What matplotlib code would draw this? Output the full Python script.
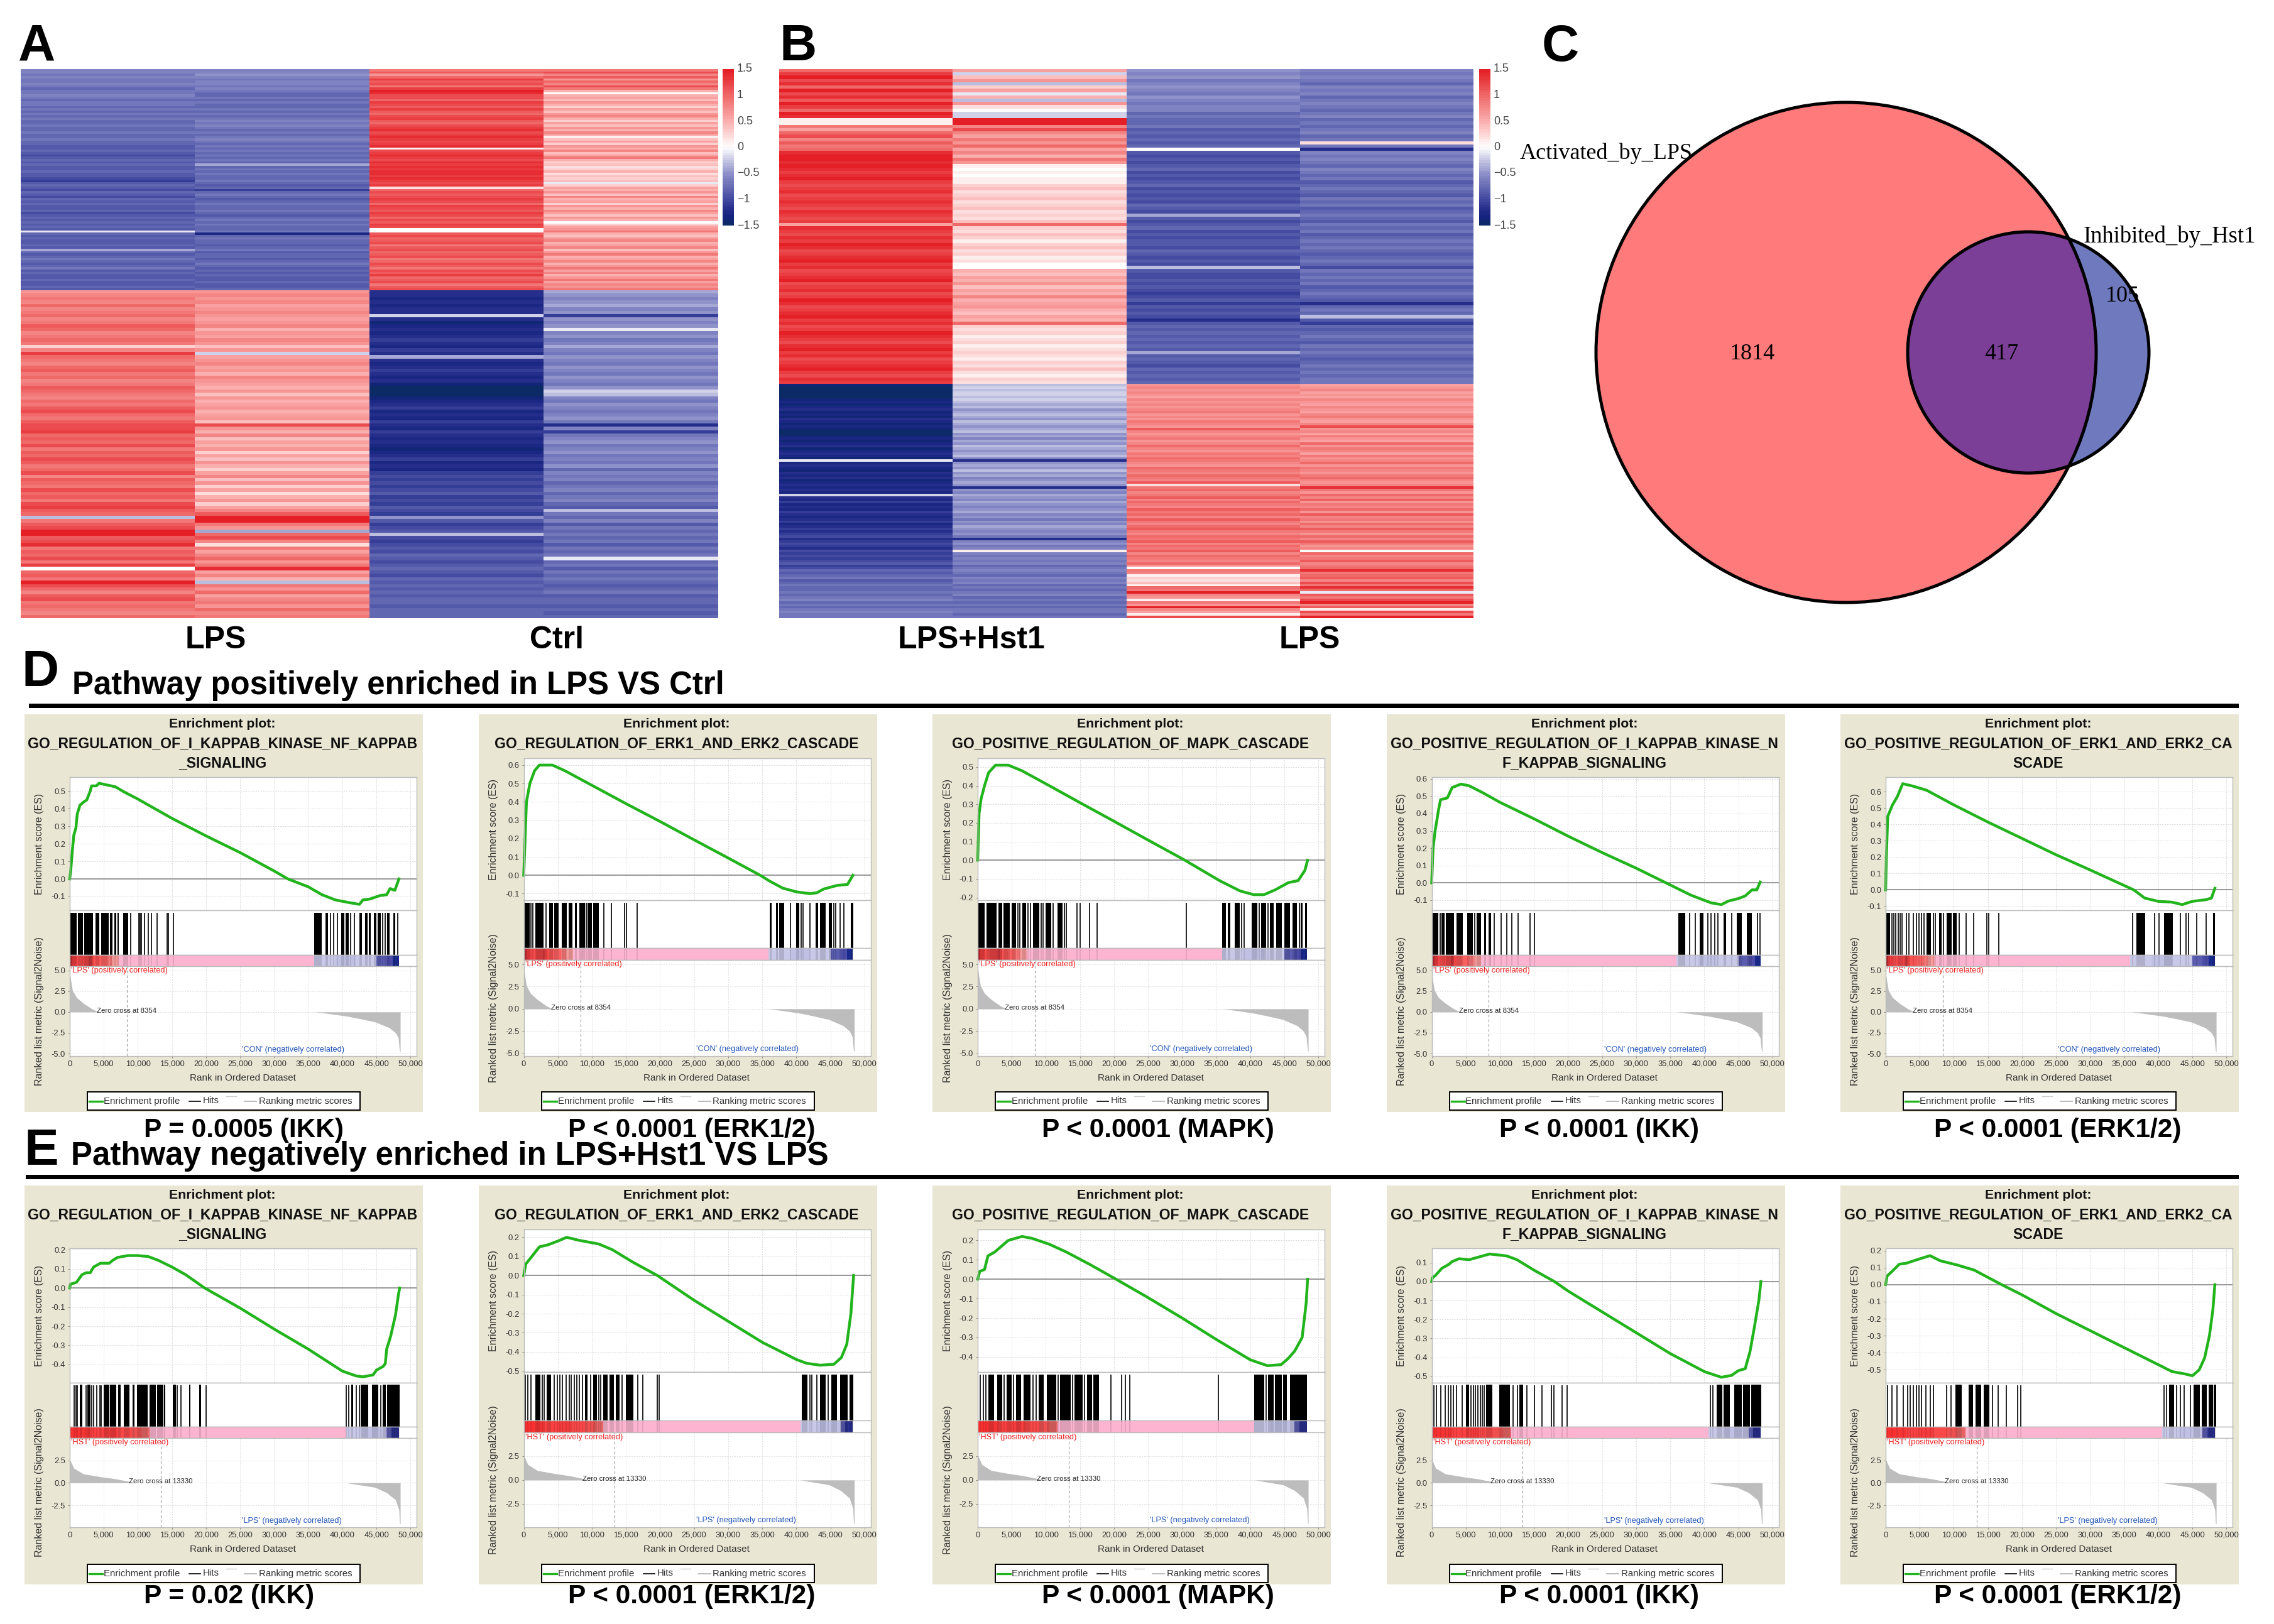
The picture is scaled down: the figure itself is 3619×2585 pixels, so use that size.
import numpy as np
import matplotlib
matplotlib.use('Agg')
import matplotlib.pyplot as plt
from matplotlib.colors import LinearSegmentedColormap
from matplotlib.patches import Circle, Rectangle
from matplotlib.transforms import Bbox

plt.rcParams['font.family'] = ['Liberation Sans', 'DejaVu Sans']

W, H = 3619, 2585

# heatmap values in tenths of a z-score, one list per sample, top to bottom
a_top_1 = [-6,-6,-7,-6,-7,-7,-6,-7,-8,-7,-7,-6,
           -7,-8,-7,-7,-8,-7,-8,-7,-8,-7,-8,-8,
           -7,-8,-8,-7,-8,-8,-7,-8,-8,-9,-9,-8,
           -9,-10,-9,-8,-9,-8,-9,-9,-8,-9,-9,-10,
           -11,-9,-8,-9,-10,-8,-9,-10,-8,-9,-8,-9,
           -9,-8,-10,-9,-8,-9,-8,-9,-8,-9,-1,-8,
           -9,-8,-9,-9,-8,-9,-4,-8,-9,-8,-7,-8,
           -9,-8,-7,-9,-8,-9,-9,-8,-9,-9,-8,-9]
a_top_2 = [-6,-6,-5,-6,-7,-6,-6,-7,-6,-7,-8,-8,
           -7,-8,-7,-8,-8,-7,-8,-7,-8,-7,-6,-7,
           -6,-7,-8,-7,-8,-7,-6,-7,-8,-7,-8,-7,
           -8,-7,-8,-7,-8,-4,-8,-7,-8,-7,-8,-8,
           -7,-8,-9,-8,-11,-8,-7,-8,-9,-8,-7,-8,
           -8,-7,-8,-9,-8,-7,-8,-7,-8,-8,-7,-13,
           -8,-7,-8,-8,-9,-8,-7,-9,-8,-8,-9,-8,
           -7,-8,-9,-8,-9,-8,-9,-9,-8,-9,-9,-8]
a_top_3 = [9,11,7,10,13,11,12,9,13,15,14,12,
           12,10,13,12,11,13,11,10,12,13,11,10,
           12,13,14,12,13,14,13,12,13,14,1,12,
           13,14,13,12,14,13,14,13,14,14,13,14,
           13,12,13,2,10,12,11,12,13,12,10,13,
           12,11,13,12,10,12,11,13,12,0,0,11,
           12,10,11,12,9,11,12,10,11,12,9,10,
           12,11,9,12,11,13,10,11,12,9,11,12]
a_top_4 = [9,12,8,11,7,10,8,12,9,5,0,5,
           6,4,7,5,3,6,4,7,8,5,3,6,
           4,7,5,8,6,1,4,6,3,7,5,8,
           4,6,9,5,3,4,2,3,5,2,4,3,
           4,-1,3,6,5,7,4,8,5,6,3,7,
           5,8,6,4,7,5,0,3,6,7,9,5,
           4,7,8,5,6,8,4,7,9,5,6,8,
           5,7,9,6,8,5,7,9,6,8,7,9]
a_bot_1 = [7,8,9,8,10,8,9,10,8,9,11,10,
           8,9,10,9,3,8,13,10,9,8,10,11,
           9,10,8,9,11,10,9,8,10,9,11,12,
           10,9,11,12,12,13,10,11,10,12,9,11,
           10,12,11,9,10,12,8,11,10,9,12,10,
           11,9,12,13,11,10,-3,9,11,12,15,15,
           11,12,14,9,11,10,12,9,13,0,10,11,
           9,15,12,10,8,11,12,9,10,9,8,10]
a_bot_2 = [7,8,7,8,6,7,8,7,6,7,8,5,
           7,6,8,7,4,7,-2,6,7,8,6,7,
           5,8,7,6,5,7,4,7,5,6,7,5,
           6,7,4,12,7,5,8,4,6,5,7,3,
           6,4,7,5,3,6,8,4,7,3,6,2,
           5,7,3,6,8,11,15,15,9,7,-4,10,
           12,8,2,9,6,8,10,7,9,14,6,8,
           5,-3,9,7,10,6,8,9,7,10,8,9]
a_bot_3 = [-12,-12,-13,-12,-13,-12,-12,-2,-12,-14,-13,-12,
           -13,-12,-11,-12,-13,-11,-12,-4,-12,-13,-12,-11,
           -12,-13,-12,-14,-15,-15,-15,-14,-13,-12,-11,-13,
           -12,-13,-11,-12,-13,-11,-12,-13,-12,-13,-14,-13,
           -12,-11,-13,-12,-13,-11,-10,-11,-10,-11,-10,-9,
           -11,-10,-11,-9,-10,-11,-5,-9,-11,-10,-9,-3,
           -10,-11,-10,-9,-10,-8,-9,-10,-9,-8,-9,-10,
           -8,-9,-8,-9,-8,-9,-8,-8,-9,-8,-8,-8]
a_bot_4 = [-4,-5,-6,-5,-4,-6,-5,-11,-5,-6,-5,-1,
           -6,-5,-7,-6,-4,-6,-7,-5,-6,-7,-5,-6,
           -7,-5,-6,-7,-5,-2,-3,-6,-7,-5,-6,-7,
           -6,-5,-7,-12,-6,-11,-7,-6,-5,-7,-6,-5,
           -7,-6,-7,-5,-8,-6,-7,-6,-8,-7,-6,-8,
           -7,-6,-8,-9,-3,-7,-8,-6,-9,-7,-8,-7,
           -8,-7,-9,-7,-8,-7,-1,-8,-7,-9,-7,-8,
           -7,-8,-9,-8,-7,-9,-8,-8,-9,-8,-9,-8]
b_top_1 = [10,13,15,12,14,10,15,12,14,11,15,13,
           10,15,14,1,1,9,6,10,12,8,11,9,
           10,14,15,15,14,15,14,13,14,15,13,12,
           13,14,12,13,14,13,12,14,13,12,13,6,
           14,13,12,14,13,15,14,12,13,14,15,13,
           14,12,13,14,15,12,13,14,12,13,15,14,
           12,13,14,15,13,14,12,13,15,14,13,12,
           14,15,13,14,12,13,14,15,13,12,14,13]
b_top_2 = [6,-2,4,7,-3,3,6,-1,5,-3,7,2,
           0,-2,-2,15,15,8,12,8,6,9,7,10,
           6,8,5,9,7,1,0,1,0,1,1,3,
           4,2,3,4,2,3,4,2,3,2,4,10,
           3,2,4,3,1,3,4,2,3,1,2,0,
           0,5,4,6,5,7,4,6,5,8,5,6,
           7,5,4,6,5,10,3,2,3,1,2,3,
           1,2,3,2,1,3,2,4,2,1,3,2]
b_top_3 = [-5,-6,-5,-7,-6,-5,-6,-7,-5,-6,-7,-6,
           -6,-8,-7,-8,-8,-7,-9,-8,-9,-8,-9,-8,
           0,-9,-10,-9,-10,-9,-8,-10,-9,-10,-9,-8,
           -10,-9,-10,-9,-10,-8,-9,-10,-4,-9,-10,-9,
           -8,-10,-9,-10,-9,-9,-10,-8,-9,-10,-9,-10,
           -3,-9,-10,-10,-9,-10,-9,-10,-11,-10,-9,-11,
           -9,-10,-9,-10,-12,-9,-8,-9,-8,-9,-8,-9,
           -8,-9,-4,-9,-8,-9,-10,-8,-9,-8,-9,-8]
b_top_4 = [-6,-7,-6,-7,-8,-6,-7,-6,-8,-7,-6,-7,
           -8,-7,-6,-8,-7,-8,-7,-6,-8,-7,2,-7,
           -12,-6,-7,-6,-7,-8,-6,-7,-8,-7,-9,-8,
           -7,-8,-9,-7,-8,-7,-9,-8,-7,-8,-9,-7,
           -8,-7,-9,-8,-7,-8,-7,-8,-9,-8,-7,-8,
           -10,-7,-8,-7,-8,-7,-9,-8,-7,-8,-9,-12,
           -8,-7,-8,-3,-9,-11,-8,-9,-8,-7,-8,-9,
           -7,-8,-7,-8,-9,-8,-7,-8,-7,-8,-7,-7]
b_bot_1 = [-14,-15,-15,-15,-15,-15,-14,-13,-14,-13,-12,-14,
           -13,-14,-12,-13,-14,-13,-14,-15,-15,-14,-13,-14,
           -13,-12,-14,-13,-12,-13,-14,-1,-13,-12,-13,-14,
           -12,-13,-12,-14,-13,-12,-13,-12,-13,-2,-12,-13,
           -11,-13,-12,-13,-11,-12,-13,-12,-11,-13,-12,-11,
           -12,-11,-10,-12,-11,-10,-11,-12,-10,-11,-10,-11,
           -10,-9,-11,-10,-8,-9,-8,-7,-9,-8,-7,-8,
           -8,-7,-8,-7,-6,-8,-7,-8,-7,-6,-7,-7]
b_bot_2 = [-3,-2,-3,-2,-2,-3,-2,-3,-4,-3,-5,-4,
           -3,-4,-5,-3,-4,-5,-4,-3,-5,-4,-6,-4,
           -5,-3,-4,-5,-4,-3,-6,-12,-5,-4,-5,-3,
           -5,-4,-6,-5,-4,-5,-12,-5,-6,-4,-5,-6,
           -4,-5,-6,-5,-4,-6,-5,-7,-5,-6,-4,-5,
           -6,-5,-7,-12,-6,-5,-7,-6,1,-6,-7,-6,
           -7,-6,-8,-7,-6,-7,-8,-6,-7,-6,-8,-7,
           -8,-7,-6,-8,-7,-8,-7,-8,-7,-7,-8,-7]
b_bot_3 = [7,8,7,8,7,6,8,7,8,7,8,9,
           7,8,7,9,8,7,11,8,7,8,9,7,
           8,10,8,7,9,8,10,9,8,7,10,9,
           8,10,9,8,11,2,9,10,8,9,11,8,
           10,9,8,11,9,10,8,11,9,8,10,11,
           9,8,10,9,11,8,10,9,11,8,10,9,
           8,10,7,0,9,8,1,3,2,4,1,10,
           9,15,8,7,1,9,7,15,8,6,1,12]
b_bot_4 = [6,7,8,6,7,6,8,7,6,8,7,6,
           8,9,7,6,8,12,7,8,6,9,7,6,
           10,7,9,8,6,9,7,8,10,7,9,8,
           7,9,10,8,7,8,14,9,7,10,8,11,
           7,9,8,10,7,11,8,9,7,10,8,11,
           9,7,10,8,11,9,7,8,0,10,8,9,
           11,8,9,10,14,9,10,11,8,12,9,14,
           10,-1,11,9,12,15,8,11,1,12,9,15]

# venn counts and labels
venn_counts = ['1814', '417', '105']
venn_sets = ['Activated_by_LPS', 'Inhibited_by_Hst1']

# colorbar
cbar_ticks = [1.5, 1, 0.5, 0, -0.5, -1, -1.5]
cbar_labels = ['1.5', '1', '0.5', '0', '\u22120.5', '\u22121', '\u22121.5']

# GSEA panels: enrichment curves, (rank in thousands, ES)
d1_rank = [0,.15,.4,.6,.9,1.1,1.5,2.1,2.5,3.0,3.2,3.9,4.3,5.5,6.7,8,10,15,20,25,30,32,35,37,39,41,42.5,43,44,45.5,46.5,47,47.7,48.3]
d1_es = [0,.05,.17,.25,.29,.37,.42,.44,.45,.5,.53,.53,.545,.535,.525,.495,.455,.345,.245,.15,.045,0,-.045,-.09,-.12,-.135,-.145,-.12,-.115,-.095,-.09,-.055,-.065,0]
d2_rank = [0,.2,.4,.9,1.6,2.3,4.2,6,10,15,20,25,30,34.7,36,38,40,42,43,44,46,47.5,48.3]
d2_es = [0,.2,.4,.5,.57,.6,.6,.57,.49,.39,.293,.193,.094,0,-.03,-.07,-.09,-.1,-.095,-.075,-.055,-.05,0]
d3_rank = [0,.2,.5,1,1.6,2.6,4.5,6.5,10,15,20,25,30.4,35.5,38.5,40.5,42,43.6,45.6,47,48,48.4]
d3_es = [0,.25,.33,.4,.47,.51,.51,.48,.41,.309,.209,.108,0,-.11,-.165,-.185,-.185,-.16,-.12,-.11,-.055,0]
d4_rank = [0,.2,.5,1,1.3,2.3,3,4.3,5.5,7.5,10,15,20,25,30,34.4,38,40,41,42.5,43.5,45,46,47,47.7,48.2]
d4_es = [0,.2,.3,.42,.48,.49,.55,.57,.56,.52,.465,.37,.27,.175,.085,0,-.07,-.1,-.115,-.125,-.105,-.09,-.075,-.04,-.04,.005]
d5_rank = [0,.1,.3,1,1.7,2.5,4,6,8,10,15,20,25,30,36.4,38,40,42,43.5,45,47,47.8,48.3]
d5_es = [0,.2,.45,.52,.57,.65,.635,.61,.565,.52,.415,.315,.215,.122,0,-.05,-.07,-.075,-.09,-.07,-.06,-.05,.01]
e1_rank = [0,.1,1,1.8,2.4,3,3.5,4.5,5.8,6.3,7,8.5,10,11.5,13,15,17,19.8,25,30,35,40,42,43,44.5,45,46,46.3,46.5,47.1,47.8,48.2,48.4]
e1_es = [0,.02,.03,.07,.08,.08,.11,.13,.13,.145,.16,.17,.17,.165,.145,.11,.07,0,-.105,-.215,-.32,-.435,-.46,-.465,-.455,-.43,-.41,-.395,-.32,-.25,-.14,-.04,0]
e2_rank = [0,.3,1.2,2.3,3.5,5,6.3,8,11,13,16,19.6,25,30,35,40,41.5,43.5,45.5,46.6,47.4,48,48.4]
e2_es = [0,.06,.1,.15,.16,.18,.2,.185,.165,.135,.07,0,-.13,-.24,-.35,-.44,-.46,-.47,-.465,-.43,-.36,-.2,0]
e3_rank = [0,.3,1,1.5,2.5,3.5,4.5,6.5,8,10.5,13,16.5,20.3,25,30,35,40,42.5,44.5,45.5,46.5,47.6,48.2,48.4]
e3_es = [0,.04,.05,.12,.14,.17,.2,.22,.21,.18,.14,.075,0,-.095,-.2,-.31,-.415,-.445,-.44,-.41,-.37,-.3,-.12,0]
e4_rank = [0,.1,.5,1.5,2.5,3,4,5.5,7,8.5,11,12.5,15,18,20,25,30,35,40,42.5,44,45,46,46.7,47.3,48,48.3]
e4_es = [0,.02,.03,.07,.09,.105,.12,.115,.13,.145,.135,.115,.06,0,-.05,-.16,-.27,-.38,-.475,-.505,-.495,-.47,-.46,-.37,-.25,-.1,0]
e5_rank = [0,.2,1,2,3,4.5,6.5,8,10.5,13,17,20,25,30,35,40,42,44,45,46,46.8,47.5,48,48.3]
e5_es = [0,.05,.08,.12,.125,.145,.17,.14,.115,.085,0,-.06,-.17,-.27,-.37,-.47,-.51,-.525,-.535,-.5,-.43,-.3,-.15,0]

# hit positions: a number is one gene, a tuple is a run too dense to separate
d1_hits = [(.1,1),(1.2,1.9),(2.1,3.4),(3.8,4.3),(4.6,5.7),(5.9,6.3),(6.5,6.8),(7,7.2),(7.8,8.6),8.9,10.1,10.3,10.5,11,11.5,12,12.8,14.3,14.5,15.2,
           (35.9,37),(37.5,37.9),38.3,38.7,39.3,(39.8,40.3),(40.5,40.9),41.2,41.8,(42.5,42.9),(43.3,43.7),(43.9,44.2),(44.6,45),(45.2,45.6),45.9,46.3,(46.6,46.9),(47.5,47.8),48.1]
d2_hits = [(.1,.9),1.1,1.3,(1.7,2.9),3.3,(3.7,4.3),(4.5,5.1),(5.6,6.3),(6.6,7.1),(7.5,7.8),(8.2,9),9.2,(9.4,10),(10.2,11),11.8,12.9,14.8,15.1,16.6,
           (36.1,36.4),(37,37.3),(37.5,38.2),39.1,(40,40.4),40.7,41,42,(42.8,43.2),(43.5,44.3),(44.8,45.2),45.5,45.8,46.4,47,(48,48.4)]
d3_hits = [(.1,1),(1.3,2.8),(3,3.6),(3.8,4.7),(5,5.6),5.9,6.2,(6.5,7.1),7.4,7.7,(8.1,9),9.3,9.6,(10,10.8),11.1,(11.7,12.4),12.7,13,14.6,15,16.4,17.5,30.6,
           (35.9,36.4),(36.7,37.1),(37.7,38.4),38.7,39.1,(40.2,41),41.3,(41.6,42.3),42.6,(42.9,43.4),(43.8,44.6),(45,45.8),(46.2,46.8),47.2,(47.4,47.7),(48,48.3)]
d4_hits = [(.1,1),1.2,(1.4,1.9),(2.1,3.3),(3.6,4.6),(5.2,6),6.3,(6.6,7.2),(7.7,8),(8.3,8.7),9.2,10.2,11,11.8,12.7,14.4,15.1,
           (36.2,37.2),37.8,38.7,(39.3,39.9),40.5,41,41.5,42,(42.8,43.2),44,(44.8,45.5),(46.2,47),47.8,48.2]
d5_hits = [(.1,.6),.9,1.2,1.5,1.8,2.1,2.4,3,3.4,4.1,4.5,4.9,5.3,5.6,(6,6.6),7,7.3,(7.8,8.2),8.5,(8.9,9.7),(9.9,10.4),10.8,11.8,12.9,14.8,15.1,16.6,
           36.2,(36.8,38.1),39.5,40.1,(40.8,42.1),43.2,44.1,44.4,45.6,47,(48,48.3)]
e1_hits = [.6,.9,1.1,(1.5,1.8),2.4,(2.6,3),3.2,3.5,4,4.4,4.6,(5,5.8),(5.9,6.8),(7.1,7.5),(7.9,8.8),(9.2,9.5),(9.9,11.4),(11.7,12.6),(12.8,13.7),(13.8,14),(15.1,15.6),15.8,16.3,(17.5,17.7),(19,19.3),20,
           40.6,40.9,(41.3,41.6),42,42.5,(42.7,43.8),(44.3,45.3),45.6,(45.9,46.4),(46.6,48.4)]
e2_hits = [.2,.6,1.1,(1.7,2.4),2.7,3,(3.4,4),4.5,4.9,5.3,5.7,6.2,6.7,7,7.4,7.8,8.2,8.6,(9,9.4),9.8,(10.2,10.7),11,11.3,(11.7,12.3),(12.6,13.2),(13.5,14.1),14.4,(15,16.1),16.7,17.5,19.6,19.9,
           (40.8,41.6),42,42.3,43,(43.5,44.3),44.7,(45.1,46),(46.4,47.5),(47.8,48.4)]
e3_hits = [.4,.8,1.2,(1.6,2.4),(2.9,3.6),3.9,(4.2,5),5.3,(5.6,6.4),(6.7,7.7),8.1,8.6,(8.9,9.7),(10.1,11.5),11.8,(12.1,13.6),13.9,(14.2,15.4),15.7,(16,16.8),(17,17.8),19.5,21.1,21.7,22.3,35.3,
           (40.6,42),42.3,(42.6,43.4),(43.6,44.6),(44.8,45.4),(45.8,48.3)]
e4_hits = [.3,.7,1.3,2,2.4,2.8,3.2,3.6,4.5,(5,5.5),5.8,6.1,6.4,6.8,7.1,7.4,7.7,(8,8.9),(9.9,11.5),11.9,12.6,(12.9,13.4),14,15.1,16.2,17.6,17.9,19.1,19.9,
           40.9,41.3,(41.8,42.6),(42.8,43.7),(44.4,45.5),(45.7,46.7),(46.9,48.4)]
e5_hits = [.3,.9,1.7,2.6,3.2,3.6,4.1,4.5,4.9,5.3,5.9,6.5,7,8.9,9.6,(10.2,11.2),(12.2,12.8),(13.2,14),(14.4,15.2),15.7,16.5,17.7,19.4,19.8,
           40.8,41.2,(41.6,42.3),42.7,43.2,43.8,44.7,(45.2,46.1),(46.4,47.1),(47.4,48),(48.1,48.5)]

# colour band under the hits, (edges in thousands, one colour per span)
band_d_edges = [0,.4,1,1.8,2.8,3.2,3.6,4.4,5.5,6.2,7.2,35.9,39,42,45,46.5,47.4,48.3]
band_d_colors = ['#c02a2e','#ee3c3e','#f64a4a','#e84244','#c63438','#f04444','#f85252','#fb6060','#fb7878','#f89a9a',
                 '#fdb4d0','#c8c8e8','#c0c0e4','#c8c8e8','#5a5cb0','#4a4ca8','#1a2a8c']
band_e_edges = [0,1.5,3,5,7,9,10.5,11.7,40.6,43,46.5,47.2,48.3]
band_e_colors = ['#fa3030','#f63434','#fa4040','#f43c3c','#f84848','#ee5050','#e86464',
                 '#fdb4d0','#c8c8e8','#c0c0e4','#5a5cb0','#2a2f90']

# ranked list metric, positive and negative tails
metric_d_pos_rank = [0,.02,.4,1,2,3.3,4.2]
metric_d_pos = [5,4.5,2.6,1.74,1.05,.35,0]
metric_d_neg_rank = [35.9,38,40.6,42.5,44.8,46.9,47.8,48.2,48.4,48.5]
metric_d_neg = [0,-.2,-.5,-.8,-1.2,-1.9,-2.5,-3.1,-4.7,-4.8]
metric_e_pos_rank = [0,.02,.6,2,4.6,6.7,8.4,9.7]
metric_e_pos = [3,2.6,1.63,1,.67,.45,.2,0]
metric_e_neg_rank = [40.6,42.7,44.8,46.5,47.8,48.3,48.4,48.5]
metric_e_neg = [0,-.25,-.5,-1.1,-1.9,-3,-4.5,-4.6]

x_ticks = [0,5,10,15,20,25,30,35,40,45,50]
rank_max = 50.89

title_1 = 'GO_REGULATION_OF_I_KAPPAB_KINASE_NF_KAPPAB\n_SIGNALING'
title_2 = 'GO_REGULATION_OF_ERK1_AND_ERK2_CASCADE'
title_3 = 'GO_POSITIVE_REGULATION_OF_MAPK_CASCADE'
title_4 = 'GO_POSITIVE_REGULATION_OF_I_KAPPAB_KINASE_N\nF_KAPPAB_SIGNALING'
title_5 = 'GO_POSITIVE_REGULATION_OF_ERK1_AND_ERK2_CA\nSCADE'
titles = [title_1, title_2, title_3, title_4, title_5]

d_pvalues = ['P = 0.0005 (IKK)', 'P < 0.0001 (ERK1/2)', 'P < 0.0001 (MAPK)', 'P < 0.0001 (IKK)', 'P < 0.0001 (ERK1/2)']
e_pvalues = ['P = 0.02 (IKK)', 'P < 0.0001 (ERK1/2)', 'P < 0.0001 (MAPK)', 'P < 0.0001 (IKK)', 'P < 0.0001 (ERK1/2)']

# ES axis: (top limit, bottom limit, ticks)
d_limits = [(.58,-.179,[-.1,0,.1,.2,.3,.4,.5]),
            (.637,-.136,[-.1,0,.1,.2,.3,.4,.5,.6]),
            (.547,-.215,[-.2,-.1,0,.1,.2,.3,.4,.5]),
            (.61,-.158,[-.1,0,.1,.2,.3,.4,.5,.6]),
            (.69,-.125,[-.1,0,.1,.2,.3,.4,.5,.6])]
e_limits = [(.208,-.496,[-.4,-.3,-.2,-.1,0,.1,.2]),
            (.241,-.506,[-.5,-.4,-.3,-.2,-.1,0,.1,.2]),
            (.256,-.478,[-.4,-.3,-.2,-.1,0,.1,.2]),
            (.175,-.534,[-.5,-.4,-.3,-.2,-.1,0,.1]),
            (.213,-.576,[-.5,-.4,-.3,-.2,-.1,0,.1,.2])]

heat_cmap = LinearSegmentedColormap.from_list('heat', [
    (0.0, '#0c2a66'), (0.05, '#14237f'), (0.1, '#262f8c'), (1/6, '#454ca2'), (1/3, '#9092ca'),
    (0.5, '#ffffff'), (2/3, '#fbb0b0'), (5/6, '#f06a6a'), (1.0, '#e41f26')])


def px_axes(x0, y0, x1, y1):
    return fig.add_axes([x0 / W, 1 - y1 / H, (x1 - x0) / W, (y1 - y0) / H])


def draw_heatmap(x0, x1, y0, y_split, y1, top, bottom, cbar_x):
    ax = px_axes(x0, y0, x1, y1)
    z = np.vstack([np.array(top).T, np.array(bottom).T]) / 10
    n_top, n_bot = len(top[0]), len(bottom[0])
    edges = np.concatenate([np.linspace(y0, y_split, n_top + 1),
                            np.linspace(y_split, y1, n_bot + 1)[1:]])
    ax.pcolormesh(np.arange(5), edges, z, cmap=heat_cmap, vmin=-1.5, vmax=1.5,
                  linewidth=0, rasterized=True)
    ax.set_ylim(y1, y0)
    ax.axis('off')

    cax = px_axes(cbar_x, 110, cbar_x + 18, 359)
    grad = np.linspace(1.5, -1.5, 60).reshape(-1, 1)
    cax.imshow(grad, cmap=heat_cmap, vmin=-1.5, vmax=1.5, aspect='auto', extent=[0, 1, -1.5, 1.5])
    cax.axis('off')
    for t, lab in zip(cbar_ticks, cbar_labels):
        cax.text(1.28, t, lab, fontsize=13, color='#444444', va='center', ha='left', clip_on=False)


def draw_hits(ax, hits, alpha=1.0, top=1.0):
    for h in hits:
        if isinstance(h, tuple):
            ax.fill_between(h, 0, top, color='black', alpha=alpha, lw=0)
        else:
            ax.vlines(h, 0, top, color='black', alpha=alpha, lw=1.2)


def style_axes(ax):
    ax.set_xlim(0, rank_max)
    ax.set_xticks(x_ticks)
    ax.tick_params(axis='both', length=2, width=0.6, color='#777777', labelcolor='#333333',
                   labelsize=9.4, pad=3)
    for s in ax.spines.values():
        s.set_color('#bbbbbb')
        s.set_linewidth(1.0)


def draw_panel(px, layout, title, rank, es, hits, limits, band_edges, band_colors,
               pos_rank, pos, neg_rank, neg, metric_lim, metric_ticks, names, zero, name_y, pvalue, p_x, p_y):
    top, es_bot, hit_bot, band_bot, met_bot = layout
    ax_l, ax_r = px + 72, px + 624
    bg_top, bg_bot = layout_bg
    page.add_patch(Rectangle((px, bg_top), 634, bg_bot - bg_top, color='#e9e6d3', lw=0))

    page.text(px + 315, bg_top + 16, 'Enrichment plot:', fontsize=15.3, fontweight='bold',
              ha='center', va='center', color='#111111')
    for i, line in enumerate(title.split('\n')):
        page.text(px + 315, bg_top + 47 + 31 * i, line, fontsize=16.6, fontweight='bold',
                  ha='center', va='center', color='#111111')

    # enrichment score
    ax = px_axes(ax_l, top, ax_r, es_bot)
    ax.set_facecolor('white')
    style_axes(ax)
    ax.set_ylim(limits[1], limits[0])
    ax.set_yticks(limits[2])
    ax.set_yticklabels(['%.1f' % v for v in limits[2]])
    ax.tick_params(axis='x', labelbottom=False, length=0)
    ax.grid(True, color='#d8d8d8', ls=(0, (2, 2)), lw=0.7)
    ax.set_axisbelow(True)
    ax.axhline(0, color='#888888', lw=1.2)
    ax.plot(rank, es, color='#22b41c', lw=3.2, solid_joinstyle='round', clip_on=False)

    # hits
    ax = px_axes(ax_l, es_bot, ax_r, hit_bot)
    style_axes(ax)
    ax.set_ylim(0, 1)
    ax.set_xticks([])
    ax.set_yticks([])
    draw_hits(ax, hits, top=0.95)

    # colour band
    ax = px_axes(ax_l, hit_bot, ax_r, band_bot)
    style_axes(ax)
    ax.set_ylim(0, 1)
    ax.set_xticks([])
    ax.set_yticks([])
    for a, b, c in zip(band_edges[:-1], band_edges[1:], band_colors):
        ax.axvspan(a, b, color=c, lw=0)
    draw_hits(ax, hits, alpha=0.12)

    # ranked metric
    ax = px_axes(ax_l, band_bot, ax_r, met_bot)
    style_axes(ax)
    ax.set_ylim(metric_lim[1], metric_lim[0])
    ax.set_yticks(metric_ticks)
    ax.set_yticklabels(['%.1f' % v for v in metric_ticks])
    ax.set_xticklabels(['{:,}'.format(v * 1000) for v in x_ticks])
    ax.grid(True, color='#dddddd', ls=(0, (2, 2)), lw=0.7)
    ax.set_axisbelow(True)
    ax.fill_between(pos_rank, pos, 0, color='#bdbdbd', lw=0)
    ax.fill_between(neg_rank, neg, 0, color='#bdbdbd', lw=0)
    ax.axvline(zero, color='#999999', ls=(0, (4, 3)), lw=0.8)
    ax.text(zero, 0.15, 'Zero cross at %d' % (zero * 1000), fontsize=8.2, ha='center', va='center', color='#222222')
    ax.text(0.2, name_y, "'%s' (positively correlated)" % names[0], fontsize=9.2, color='#ee2222', va='center')
    ax.text(25.3, metric_lim[1] * 0.86, "'%s' (negatively correlated)" % names[1], fontsize=9.2, color='#2255bb', va='center')
    clip = Bbox([[px, H - bg_bot], [px + 634, H - bg_top]])
    for lab in ax.get_xticklabels():
        lab.set_clip_on(True)
        lab.set_clip_box(clip)

    # labels and legend are drawn on the page
    page.text(px + 24, (top + es_bot) / 2, 'Enrichment score (ES)', rotation=90, fontsize=11.5,
              ha='center', va='center', color='#333333')
    page.text(px + 24, (band_bot + met_bot) / 2, 'Ranked list metric (Signal2Noise)', rotation=90, fontsize=11.5,
              ha='center', va='center', color='#333333')
    page.text(px + 347, met_bot + 35, 'Rank in Ordered Dataset', fontsize=11, ha='center', va='center', color='#333333')

    box_t, box_b = bg_bot - 32, bg_bot - 3
    mid = (box_t + box_b) / 2
    page.add_patch(Rectangle((px + 100, box_t), 434, box_b - box_t, fc='white', ec='black', lw=1.4))
    page.plot([px + 103, px + 124], [mid, mid], color='#22b41c', lw=2.4)
    page.text(px + 126, mid, 'Enrichment profile', fontsize=10.8, va='center', color='#333333')
    page.plot([px + 262, px + 280], [mid, mid], color='black', lw=1.2)
    page.text(px + 284, mid, 'Hits', fontsize=10.8, va='center', color='#333333')
    page.plot([px + 321, px + 337], [box_t + 7, box_t + 7], color='#cccccc', lw=1.0)
    page.plot([px + 350, px + 369], [mid, mid], color='#bbbbbb', lw=1.4)
    page.text(px + 373, mid, 'Ranking metric scores', fontsize=10.8, va='center', color='#333333')

    page.text(p_x, p_y, pvalue, fontsize=30.5, fontweight='bold', ha='center', va='center', color='black')


fig = plt.figure(figsize=(W / 100, H / 100), dpi=100, facecolor='white')
page = fig.add_axes([0, 0, 1, 1])
page.set_xlim(0, W)
page.set_ylim(H, 0)
page.axis('off')

# panels A and B
draw_heatmap(33, 1143, 110, 462, 984, [a_top_1, a_top_2, a_top_3, a_top_4], [a_bot_1, a_bot_2, a_bot_3, a_bot_4], 1150)
draw_heatmap(1240, 2345, 110, 611, 984, [b_top_1, b_top_2, b_top_3, b_top_4], [b_bot_1, b_bot_2, b_bot_3, b_bot_4], 2354)

for x, txt in zip([343, 886, 1546, 2084], ['LPS', 'Ctrl', 'LPS+Hst1', 'LPS']):
    page.text(x, 1019, txt, fontsize=36, fontweight='bold', ha='center', va='center')

for x, y, txt in [(29, 95, 'A'), (1240, 96, 'B'), (2454, 97, 'C'), (34, 1092, 'D'), (39, 1854, 'E')]:
    page.text(x, y, txt, fontsize=59, fontweight='bold', ha='left', va='baseline')

# panel C
big = Circle((2938, 561), 398, fc='#ff7b7b', ec='none')
small = Circle((3228, 561), 192, fc='#6f79bd', ec='none')
page.add_patch(big)
page.add_patch(small)
overlap = Circle((3228, 561), 192, fc='#7c3f98', ec='none')
page.add_patch(overlap)
overlap.set_clip_path(big)
page.add_patch(Circle((2938, 561), 398, fc='none', ec='black', lw=3.6))
page.add_patch(Circle((3228, 561), 192, fc='none', ec='black', lw=3.6))
serif = ['Liberation Serif', 'DejaVu Serif']
page.text(2419, 244, venn_sets[0], fontsize=26, family=serif, va='center')
page.text(3316, 376, venn_sets[1], fontsize=26.3, family=serif, va='center')
for (x, y), c in zip([(2789, 564), (3185, 564), (3378, 471)], venn_counts):
    page.text(x, y, c, fontsize=26, family=serif, ha='center', va='center')

# headers
page.text(115, 1105, 'Pathway positively enriched in LPS VS Ctrl', fontsize=36.6, fontweight='bold', va='baseline')
page.text(113, 1854, 'Pathway negatively enriched in LPS+Hst1 VS LPS', fontsize=36.7, fontweight='bold', va='baseline')
page.add_patch(Rectangle((46, 1120), 3517, 7, color='black', lw=0))
page.add_patch(Rectangle((41, 1870), 3522, 7, color='black', lw=0))

# panels D and E
panel_x = [39, 761.5, 1484, 2206.5, 2929]
p_centres_d = [388, 1101, 1843, 2545, 3275]
p_centres_e = [365, 1101, 1843, 2545, 3275]
d_layouts = [(1237,1449,1520,1538,1681), (1207,1433,1509,1528,1681), (1207,1433,1509,1528,1681),
             (1237,1449,1520,1538,1681), (1237,1449,1520,1538,1681)]
e_layouts = [(1987,2201,2271,2289,2431), (1957,2184,2261,2280,2431), (1957,2184,2261,2280,2431),
             (1987,2201,2271,2289,2431), (1987,2201,2271,2289,2431)]
d_curves = [(d1_rank, d1_es, d1_hits), (d2_rank, d2_es, d2_hits), (d3_rank, d3_es, d3_hits), (d4_rank, d4_es, d4_hits), (d5_rank, d5_es, d5_hits)]
e_curves = [(e1_rank, e1_es, e1_hits), (e2_rank, e2_es, e2_hits), (e3_rank, e3_es, e3_hits), (e4_rank, e4_es, e4_hits), (e5_rank, e5_es, e5_hits)]

layout_bg = (1137, 1770)
for i in range(5):
    rank, es, hits = d_curves[i]
    draw_panel(panel_x[i], d_layouts[i], titles[i], rank, es, hits, d_limits[i], band_d_edges, band_d_colors,
               metric_d_pos_rank, metric_d_pos, metric_d_neg_rank, metric_d_neg, (5.5, -5.3),
               [-5, -2.5, 0, 2.5, 5], ('LPS', 'CON'), 8.354, 5.0, d_pvalues[i], p_centres_d[i], 1799)

layout_bg = (1887, 2522)
for i in range(5):
    rank, es, hits = e_curves[i]
    draw_panel(panel_x[i], e_layouts[i], titles[i], rank, es, hits, e_limits[i], band_e_edges, band_e_colors,
               metric_e_pos_rank, metric_e_pos, metric_e_neg_rank, metric_e_neg, (5.0, -4.95),
               [-2.5, 0, 2.5], ('HST', 'LPS'), 13.33, 4.5, e_pvalues[i], p_centres_e[i], 2541)

fig.savefig('out.png', dpi=100)
